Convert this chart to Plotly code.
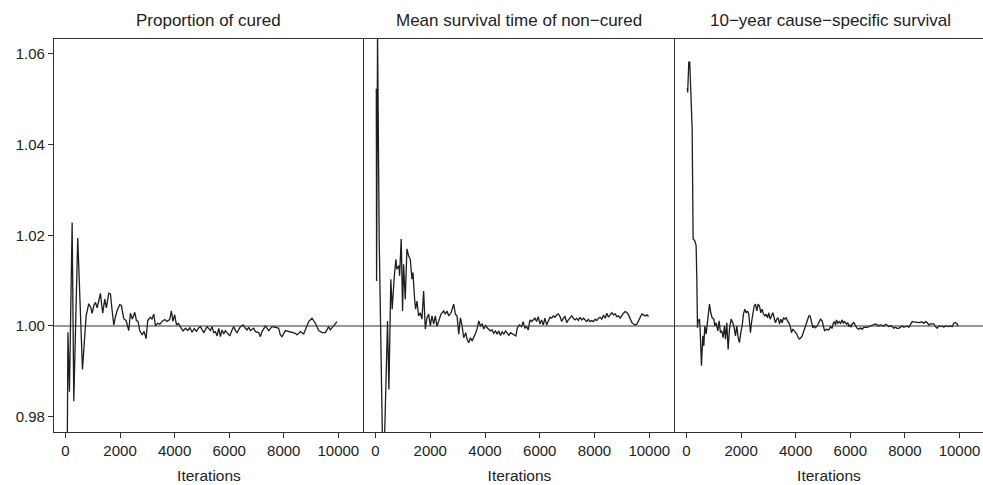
import plotly.graph_objects as go

# ---------------- data ----------------
titles = ["Proportion of cured", "Mean survival time of non\u2212cured",
          "10\u2212year cause\u2212specific survival"]

x_ticks = [0, 2000, 4000, 6000, 8000, 10000]
y_ticks = [0.98, 1.00, 1.02, 1.04, 1.06]
y_ticktext = ["0.98", "1.00", "1.02", "1.04", "1.06"]
ref_value = 1.0

iter_cured = [60, 90, 146, 245, 305, 450, 623, 757, 855, 930,
              977, 1040, 1100, 1160, 1220, 1282, 1330, 1366, 1440, 1500,
              1586, 1650, 1700, 1770, 1830, 1894, 1990, 2050, 2136, 2220,
              2320, 2380, 2450, 2540, 2600, 2660, 2720, 2810, 2880, 2955,
              3015, 3110, 3170, 3235, 3300, 3380, 3460, 3540, 3640, 3720,
              3820, 3880, 3940, 4000, 4070, 4140, 4210, 4310, 4400, 4480,
              4560, 4640, 4720, 4800, 4870,
              4945, 5067, 5189, 5311, 5372, 5433, 5495, 5556, 5617, 5678,
              5739, 5800, 5861, 5922, 6020, 6105, 6166, 6227, 6288, 6410,
              6508, 6593, 6654, 6715, 6777, 6899, 6960, 7082, 7143, 7204,
              7326, 7448, 7570, 7692, 7814, 7875, 7936, 8059, 8181, 8303,
              8425, 8486, 8608, 8730, 8852, 8913, 9035, 9157, 9280, 9402,
              9524, 9646, 9707, 9829, 9951]
val_cured = [0.965, 0.9986, 0.9855, 1.0228, 0.9834, 1.0194, 0.9904, 1.0022, 1.0049, 1.0040,
             1.0028, 1.0045, 1.0052, 1.0040, 1.0055, 1.0072, 1.0045, 1.0028, 1.0059, 1.0040,
             1.0072, 1.0070, 1.0040, 1.0002, 1.0020, 1.0034, 1.0047, 1.0045, 1.0016, 1.0012,
             0.9990, 1.0028, 1.0015, 1.0030, 1.0012, 1.0010, 0.9990, 0.9980, 0.9988, 0.9972,
             1.0012, 1.0019, 1.0015, 1.0026, 1.0000, 1.0006, 1.0004, 1.0010, 1.0014, 1.0010,
             1.0014, 1.0033, 1.0010, 1.0025, 1.0002, 1.0006, 0.9998, 0.9989, 0.9995, 0.9990,
             0.9996, 0.9986, 0.9994, 0.9988, 0.9995,
             0.99985, 0.99853, 0.99985, 0.99897, 0.99985, 0.99853, 0.99875, 0.99779, 0.99948, 0.99764,
             0.99912, 0.99823, 0.99897, 0.99853, 0.99779, 0.99912, 0.99985, 0.99897, 0.99853, 0.99985,
             1.00022, 0.99948, 0.99912, 0.99971, 0.99897, 0.99948, 0.99875, 0.99853, 0.99764, 0.99875,
             1.0, 0.99897, 0.99985, 0.99971, 0.99948, 0.99801, 0.99764, 0.99897, 0.99875, 0.99853,
             0.99838, 0.99801, 0.99875, 0.99823, 1.00022, 1.00096, 1.0017, 1.00059, 0.99897, 0.99853,
             0.99853, 0.99985, 0.99912, 1.0, 1.00096]

iter_mean = [30, 40, 75, 135, 256, 317, 440, 490, 560, 610,
             684, 745, 780, 855, 880, 940, 990, 1025, 1087, 1148,
             1209, 1270, 1331, 1368, 1429, 1465, 1514, 1575, 1636, 1697,
             1758, 1819, 1880, 1941, 2002, 2063, 2125, 2186, 2247, 2308,
             2393, 2491, 2552, 2613, 2674, 2759, 2857, 2918, 2979, 3040,
             3101, 3162, 3223, 3297, 3345, 3406, 3468, 3529, 3590, 3663,
             3712, 3773, 3834, 3895, 3956, 4017, 4078, 4139, 4200, 4261,
             4322, 4383, 4444, 4505, 4566, 4627, 4688, 4750, 4811, 4872,
             4933,
             5030, 5128, 5177, 5250, 5335,
             5396, 5457, 5519, 5580, 5641, 5702, 5763, 5824, 5885, 5946,
             6007, 6068, 6129, 6190, 6251, 6312, 6373, 6434, 6495, 6556,
             6617, 6678, 6740, 6801, 6862, 6923, 6984, 7045, 7106, 7167,
             7228, 7289, 7350, 7411, 7472, 7533, 7594, 7655, 7716, 7777,
             7838, 7899, 7961, 8022, 8083, 8144, 8205, 8266, 8327, 8388,
             8449, 8510, 8571, 8632, 8693, 8754, 8815, 8876, 8937, 8998,
             9059, 9120, 9182, 9243, 9304, 9365, 9426, 9487, 9548, 9609,
             9670, 9731, 9792, 9853, 9914, 9975]
val_mean = [1.0523, 1.0099, 1.0645, 1.0192, 0.974, 0.972, 1.0011, 0.986, 1.0103, 1.0037,
            1.0107, 1.0147, 1.0125, 1.0133, 1.0111, 1.0192, 1.0033, 1.0136, 1.0059, 1.0170,
            1.0155, 1.0147, 1.0103, 1.0118, 1.0059, 1.0037, 1.0055, 1.0022, 1.0029, 1.0015,
            1.0077, 0.9993, 1.0018, 1.0026, 1.0, 1.0022, 1.0004, 1.0022, 0.9999, 1.0011,
            1.0026, 1.0033, 1.0026, 1.0033, 1.0022, 1.0029, 1.0048, 1.0026, 1.0022, 0.9982,
            1.0018, 1.0, 0.9974, 0.9985, 0.9971, 0.9963, 0.9974, 0.9967, 0.9974, 0.9985,
            0.9994, 1.0011, 1.0, 1.0004, 0.9993, 1.0001, 0.9996, 0.9993, 0.9989, 0.9991,
            0.9984, 0.9989, 0.9982, 0.9989, 0.9979, 0.9987, 0.9982, 0.9989, 0.9985, 0.9979,
            0.9985,
            0.99823, 0.99779, 0.99948, 1.00022, 0.99985,
            1.00096, 0.99948, 0.99985, 0.99912, 1.00133, 1.00096, 1.00147, 1.0017, 1.00096, 1.00206,
            1.00044, 1.00133, 1.00022, 1.0017, 1.00022, 1.00133, 1.00192, 1.0017, 1.00221, 1.00192,
            1.00243, 1.00265, 1.00206, 1.00096, 1.0017, 1.00206, 1.00074, 1.00133, 1.00192, 1.00221,
            1.0017, 1.00133, 1.0017, 1.00118, 1.00192, 1.00133, 1.0017, 1.00133, 1.00096, 1.00147,
            1.00096, 1.00118, 1.00096, 1.00147, 1.00118, 1.0017, 1.00192, 1.00147, 1.00243, 1.0017,
            1.0028, 1.00192, 1.00243, 1.00295, 1.00243, 1.00265, 1.00206, 1.00221, 1.0017, 1.00243,
            1.0028, 1.00317, 1.00295, 1.00243, 1.00147, 1.00074, 1.00044, 1.00022, 1.00044, 1.00118,
            1.00206, 1.00265, 1.00243, 1.00221, 1.00243, 1.00206]

iter_css = [30, 45, 85, 120, 208, 244, 305, 354, 380, 403,
            427, 476, 500, 549, 598, 635, 671, 720, 769, 842,
            891, 940, 1001, 1038, 1087, 1148, 1197, 1245, 1294, 1343,
            1392, 1429, 1477, 1526, 1575, 1636, 1697, 1746, 1795, 1844,
            1893, 1941, 1990, 2039, 2088, 2137, 2186, 2234, 2283, 2344,
            2381, 2430, 2479, 2527, 2576, 2625, 2674, 2723, 2772, 2820,
            2869, 2918, 2967, 3016, 3065, 3113, 3162, 3211, 3260, 3309,
            3358, 3407, 3456, 3505, 3553, 3602, 3651, 3700, 3749, 3797,
            3846, 3895, 3944, 3993, 4041, 4090, 4139, 4188, 4237, 4298,
            4359, 4420, 4481, 4530, 4579, 4627, 4676, 4725, 4786, 4847,
            4908, 4969, 5031,
            5055, 5128, 5213, 5274, 5335, 5372, 5421, 5457, 5494, 5543,
            5592, 5641, 5702, 5738, 5787, 5860, 5909, 5946, 5982, 6031,
            6068, 6129, 6190, 6251, 6312, 6373, 6434, 6495, 6617, 6740,
            6862, 6923, 6984, 7045, 7106, 7228, 7289, 7350, 7411, 7472,
            7533, 7594, 7655, 7716, 7777, 7838, 7899, 7961, 8022, 8083,
            8144, 8205, 8266, 8327, 8388, 8449, 8510, 8571, 8632, 8693,
            8754, 8815, 8876, 8937, 8998, 9059, 9120, 9182, 9243, 9304,
            9365, 9426, 9487, 9548, 9609, 9670, 9731, 9792, 9853, 9914,
            9951]
val_css = [1.0525, 1.0515, 1.0582, 1.0582, 1.0435, 1.0192, 1.0188, 1.0177, 1.0103, 0.9996,
           1.0011, 1.0015, 0.9993, 0.9912, 0.9978, 0.9956, 1.0, 0.9982, 1.0011, 1.0048,
           1.0029, 1.0018, 1.0015, 1.0, 1.0007, 0.9989, 1.0011, 0.9985, 0.9989, 0.9974,
           1.0, 0.9971, 1.0007, 0.9948, 0.9993, 1.0015, 1.0007, 0.9996, 0.9978, 1.0,
           0.9974, 0.9963, 0.9985, 1.0, 1.0026, 1.0037, 1.0029, 1.0033, 1.0026, 0.9985,
           1.0007, 1.0029, 1.0044, 1.0048, 1.0033, 1.0048, 1.0044, 1.0029, 1.0037, 1.0026,
           1.0022, 1.0026, 1.0018, 1.0029, 1.0015, 1.0022, 1.0029, 1.0018, 1.0007, 1.0015,
           1.0018, 1.0004, 1.0015, 1.0007, 1.0018, 1.0015, 1.0018, 1.0011, 1.0007, 1.0,
           0.9985, 0.9993, 0.9989, 0.9985, 0.9982, 0.9974, 0.9971, 0.9974, 0.9978, 0.9989,
           1.0, 1.0015, 1.0022, 1.0022, 1.0007, 0.9996, 1.0, 0.9996, 1.0, 1.0007,
           1.0015, 1.0011, 0.9993,
           0.99897, 0.99926, 0.99912, 0.99985, 0.99948, 1.00059, 1.00096, 1.00022, 1.00133, 1.00059,
           1.00096, 1.00059, 1.00133, 1.00059, 1.00096, 1.00044, 1.00074, 0.99985, 1.00022, 0.99971,
           1.00044, 1.00074, 1.0, 0.99948, 0.99926, 0.99956, 0.99926, 0.99971, 0.99971, 1.0,
           1.00022, 1.00044, 1.00022, 1.0, 1.00022, 1.0, 1.00037, 1.00022, 0.99985, 1.00007,
           0.99985, 0.99948, 0.99971, 0.99948, 0.99948, 0.99985, 1.0, 0.99971, 0.99985, 1.0,
           0.99971, 1.00022, 1.00096, 1.00088, 1.00081, 1.00088, 1.00074, 1.00081, 1.00088, 1.00059,
           1.00096, 1.00074, 1.00022, 1.00044, 1.00037, 1.00044, 0.99985, 0.99948, 1.0, 0.99985,
           1.0, 0.99971, 1.0, 0.99985, 0.99985, 1.0, 0.99985, 1.00059, 1.00074, 1.00044,
           1.0]

# ---------------- figure ----------------
W, H = 983, 485
ML, MR, MT, MB = 54, 0, 39, 53
FONT = "Liberation Sans, Arial, Helvetica, sans-serif"
INK = "#1e1e1e"
AXC = "#333333"

series = [(iter_cured, val_cured), (iter_mean, val_mean), (iter_css, val_css)]
doms = [[0.0, 0.33369], [0.33369, 0.66846], [0.66846, 1.0]]
xranges = [[-420, 10940], [-420, 10940], [-420, 10860]]
yrange = [0.9766, 1.0633]

fig = go.Figure()
for i, (xs, ys) in enumerate(series):
    sfx = "" if i == 0 else str(i + 1)
    fig.add_trace(go.Scatter(x=xs, y=ys, mode="lines",
                             line=dict(color=INK, width=1.3),
                             xaxis="x" + sfx, yaxis="y" + sfx,
                             hoverinfo="skip", showlegend=False))

layout = dict(width=W, height=H,
              margin=dict(l=ML, r=MR, t=MT, b=MB, pad=0),
              paper_bgcolor="white", plot_bgcolor="white",
              font=dict(family=FONT, size=15, color="#222222"),
              showlegend=False)

for i in range(3):
    sfx = "" if i == 0 else str(i + 1)
    layout["xaxis" + sfx] = dict(
        domain=doms[i], range=xranges[i], anchor="y" + sfx,
        showline=True, mirror=True, linecolor=AXC, linewidth=1.2,
        ticks="outside", ticklen=5, tickwidth=1.1, tickcolor=AXC,
        tickvals=x_ticks, ticktext=[str(v) for v in x_ticks],
        tickfont=dict(size=15, family=FONT, color="#222222"),
        showgrid=False, zeroline=False,
        title=dict(text="Iterations", standoff=12,
                   font=dict(size=15.5, family=FONT, color="#222222")))
    ydict = dict(domain=[0, 1], range=yrange, anchor="x" + sfx,
                 showline=True, linecolor=AXC, linewidth=1.2,
                 showgrid=False, zeroline=False)
    if i == 0:
        ydict.update(ticks="outside", ticklen=5, tickwidth=1.1, tickcolor=AXC,
                     tickvals=y_ticks, ticktext=y_ticktext,
                     tickfont=dict(size=15, family=FONT, color="#222222"))
    else:
        ydict.update(showticklabels=False, ticks="")
    layout["yaxis" + sfx] = ydict

fig.update_layout(**layout)

# reference line at 1 across all panels
for i in range(3):
    sfx = "" if i == 0 else str(i + 1)
    fig.add_shape(type="line", xref=("x" + sfx) + " domain", yref="y" + sfx,
                  x0=0, x1=1, y0=ref_value, y1=ref_value,
                  line=dict(color=AXC, width=1.1), layer="above")

# panel titles
for i, t in enumerate(titles):
    cx = (doms[i][0] + doms[i][1]) / 2
    if i == 2:
        cx = (830 - ML) / (W - ML - MR)
    fig.add_annotation(text=t, xref="paper", yref="paper", x=cx, y=1.0483,
                       xanchor="center", yanchor="middle", showarrow=False,
                       font=dict(size=17, family=FONT, color="#222222"))

fig.write_html("out.html")
